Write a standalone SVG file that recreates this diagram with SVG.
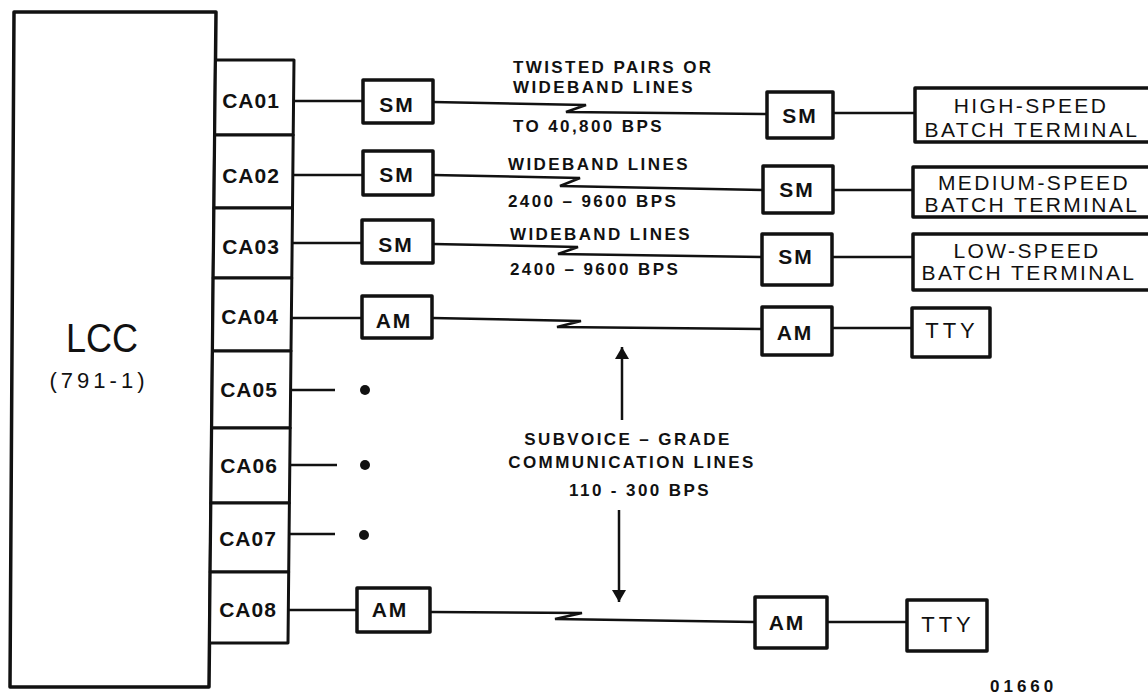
<svg xmlns="http://www.w3.org/2000/svg" width="1148" height="694" viewBox="0 0 1148 694">
<style>
  .box{fill:#fff;stroke:#111;stroke-width:3.5;stroke-linejoin:round}
  .cell{fill:#fff;stroke:#111;stroke-width:3;stroke-linejoin:round}
  .ln{fill:none;stroke:#111;stroke-width:2.5;stroke-linejoin:miter}
  .lb{font-family:"Liberation Sans",Arial,sans-serif;font-weight:bold;fill:#111}
  .lr{font-family:"Liberation Sans",Arial,sans-serif;fill:#111}
  .ca{font-size:21px;letter-spacing:1px;text-anchor:middle}
  .md{font-size:21px;letter-spacing:2px;text-anchor:middle}
  .tm{font-size:21px;letter-spacing:2.4px;text-anchor:middle}
  .note{font-size:17px;letter-spacing:2.4px}
</style>
<defs>
  <marker id="ah" viewBox="0 0 12 14" refX="12" refY="7" markerWidth="12" markerHeight="14" markerUnits="userSpaceOnUse" orient="auto">
    <path d="M0,0 L12,7 L0,14 Z" fill="#111"/>
  </marker>
</defs>
<rect width="1148" height="694" fill="#fff"/>

<g id="lcc">
  <polygon class="box" points="14,12 216,12 209,687 10,687"/>
  <text class="lr" x="102" y="352" font-size="41" text-anchor="middle" textLength="72" lengthAdjust="spacingAndGlyphs">LCC</text>
  <text class="lr" x="99" y="388" font-size="22" text-anchor="middle" letter-spacing="4">(791-1)</text>
</g>

<g id="ca01"><polygon class="cell" points="215.5,60 294,60 293.2,135 214.7,135"/><text class="lb ca" x="251" y="108">CA01</text></g>
<g id="ca02"><polygon class="cell" points="214.7,135 293.2,135 292.5,208 214,208"/><text class="lb ca" x="251" y="183">CA02</text></g>
<g id="ca03"><polygon class="cell" points="214,208 292.5,208 291.8,278 213.2,278"/><text class="lb ca" x="251" y="254">CA03</text></g>
<g id="ca04"><polygon class="cell" points="213.2,278 291.8,278 291,351 212.5,351"/><text class="lb ca" x="250" y="324">CA04</text></g>
<g id="ca05"><polygon class="cell" points="212.5,351 291,351 290.2,428 211.7,428"/><text class="lb ca" x="249" y="397">CA05</text></g>
<g id="ca06"><polygon class="cell" points="211.7,428 290.2,428 289.4,503 210.9,503"/><text class="lb ca" x="249" y="473">CA06</text></g>
<g id="ca07"><polygon class="cell" points="210.9,503 289.4,503 288.7,572 210.2,572"/><text class="lb ca" x="248" y="546">CA07</text></g>
<g id="ca08"><polygon class="cell" points="210.2,572 288.7,572 288,643 209.5,643"/><text class="lb ca" x="248" y="617">CA08</text></g>

<g id="connectors">
  <line class="ln" x1="294" y1="101" x2="363" y2="101"/>
  <line class="ln" x1="293" y1="175" x2="363" y2="175"/>
  <line class="ln" x1="292" y1="243" x2="362" y2="243"/>
  <line class="ln" x1="291" y1="318" x2="362" y2="318"/>
  <line class="ln" x1="290" y1="390" x2="335" y2="390"/>
  <line class="ln" x1="290" y1="465" x2="337" y2="465"/>
  <line class="ln" x1="289" y1="534" x2="335" y2="534"/>
  <line class="ln" x1="288" y1="610" x2="357" y2="610"/>

  <path class="ln" d="M433,102 L586,105 L566,112 L767,114"/>
  <path class="ln" d="M433,175 L580,178 L560,186 L763,190"/>
  <path class="ln" d="M433,244 L578,247 L558,254 L762,257"/>
  <path class="ln" d="M432,318 L581,321 L557,327 L762,329"/>
  <path class="ln" d="M430,612 L582,613 L555,619 L755,622"/>

  <line class="ln" x1="833" y1="113" x2="915" y2="113"/>
  <line class="ln" x1="833" y1="190" x2="913" y2="190"/>
  <line class="ln" x1="832" y1="257" x2="913" y2="257"/>
  <line class="ln" x1="832" y1="328" x2="912" y2="328"/>
  <line class="ln" x1="827" y1="622" x2="907" y2="622"/>

  <line class="ln" x1="622" y1="420" x2="622" y2="347" marker-end="url(#ah)"/>
  <line class="ln" x1="619" y1="510" x2="619" y2="602" marker-end="url(#ah)"/>
</g>

<g id="dots">
  <circle cx="365" cy="390" r="5" fill="#111"/>
  <circle cx="365" cy="465" r="5" fill="#111"/>
  <circle cx="364" cy="535" r="5" fill="#111"/>
</g>

<g id="sm1"><rect class="box" x="363" y="80" width="70" height="43"/><text class="lb md" x="397" y="112">SM</text></g>
<g id="sm2"><rect class="box" x="363" y="151" width="70" height="44"/><text class="lb md" x="397" y="182">SM</text></g>
<g id="sm3"><rect class="box" x="362" y="220" width="71" height="43"/><text class="lb md" x="396" y="252">SM</text></g>
<g id="am4"><rect class="box" x="362" y="296" width="70" height="42"/><text class="lb md" x="394" y="328">AM</text></g>
<g id="am8"><rect class="box" x="357" y="588" width="73" height="44"/><text class="lb md" x="390" y="617">AM</text></g>

<g id="sm1r"><rect class="box" x="767" y="92" width="66" height="46"/><text class="lb md" x="800" y="123">SM</text></g>
<g id="sm2r"><rect class="box" x="763" y="166" width="70" height="47"/><text class="lb md" x="797" y="197">SM</text></g>
<g id="sm3r"><rect class="box" x="762" y="234" width="70" height="51"/><text class="lb md" x="796" y="264">SM</text></g>
<g id="am4r"><rect class="box" x="762" y="307" width="70" height="48"/><text class="lb md" x="795" y="340">AM</text></g>
<g id="am8r"><rect class="box" x="755" y="597" width="72" height="51"/><text class="lb md" x="787" y="630">AM</text></g>

<g id="term1"><rect class="box" x="915" y="88" width="250" height="54"/>
  <text class="lr tm" x="1031" y="113">HIGH-SPEED</text>
  <text class="lr tm" x="1032" y="137">BATCH TERMINAL</text></g>
<g id="term2"><rect class="box" x="913" y="167" width="250" height="50"/>
  <text class="lr tm" x="1034" y="190">MEDIUM-SPEED</text>
  <text class="lr tm" x="1032" y="212">BATCH TERMINAL</text></g>
<g id="term3"><rect class="box" x="913" y="234" width="250" height="56"/>
  <text class="lr tm" x="1027" y="258">LOW-SPEED</text>
  <text class="lr tm" x="1029" y="280">BATCH TERMINAL</text></g>
<g id="tty4"><rect class="box" x="912" y="308" width="78" height="49"/><text class="lr" x="952" y="338" font-size="22" letter-spacing="4" text-anchor="middle">TTY</text></g>
<g id="tty8"><rect class="box" x="907" y="600" width="80" height="51"/><text class="lr" x="948" y="632" font-size="22" letter-spacing="4" text-anchor="middle">TTY</text></g>

<g id="labels">
  <text class="lb note" x="513" y="73">TWISTED PAIRS OR</text>
  <text class="lb note" x="513" y="93">WIDEBAND LINES</text>
  <text class="lb note" x="513" y="132">TO 40,800 BPS</text>
  <text class="lb note" x="508" y="170">WIDEBAND LINES</text>
  <text class="lb note" x="508" y="207">2400 – 9600 BPS</text>
  <text class="lb note" x="510" y="240">WIDEBAND LINES</text>
  <text class="lb note" x="510" y="275">2400 – 9600 BPS</text>
  <text class="lb note" x="628" y="445" text-anchor="middle">SUBVOICE – GRADE</text>
  <text class="lb note" x="632" y="468" text-anchor="middle">COMMUNICATION LINES</text>
  <text class="lb note" x="640" y="496" text-anchor="middle">110 - 300 BPS</text>
  <text class="lb" x="990" y="692" font-size="17" letter-spacing="4">01660</text>
</g>
</svg>
